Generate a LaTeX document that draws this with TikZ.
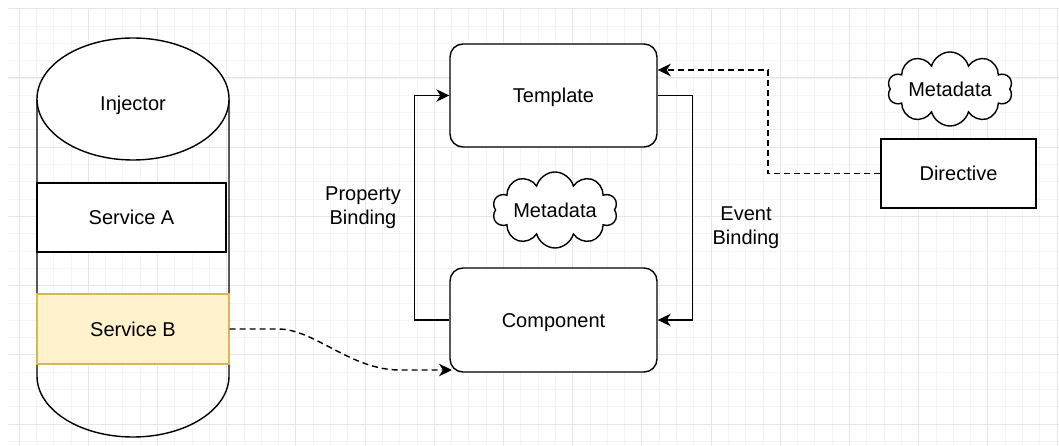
\documentclass[tikz,border=0pt]{standalone}
\usepackage{fontspec}
\setmainfont{Liberation Sans}
\usetikzlibrary{shapes.symbols,arrows.meta,calc}
\definecolor{gridminor}{HTML}{F4F4F4}
\definecolor{gridmajor}{HTML}{E6E6E6}
\definecolor{sbfill}{HTML}{FFF2CC}
\definecolor{sbdraw}{HTML}{D6B656}
\tikzset{
  txt/.style={font=\fontsize{20}{24}\selectfont, text=black},
  btxt/.style={txt, text height=14.5pt, text depth=0pt},
  outline/.style={draw=black, line width=1.4pt},
  rbox/.style={outline, rounded corners=13pt, minimum width=207pt, minimum height=103pt, btxt},
  sbox/.style={draw=black, line width=1.4pt, minimum width=189pt, minimum height=69pt, btxt, inner sep=0pt},
  mcloud/.style={outline, cloud, cloud puffs=10, cloud ignores aspect, minimum width=125pt, minimum height=76pt, btxt, inner sep=0pt},
  conn/.style={draw=black, line width=1.4pt, -{Stealth[length=13pt,width=12.5pt,inset=4pt]}},
  dconn/.style={conn, dash pattern=on 6pt off 4pt},
}
\begin{document}
\begin{tikzpicture}[x=1pt,y=-1pt]
\useasboundingbox (0,0) rectangle (1059,446);
\fill[white] (0,0) rectangle (1059,446);
% grid
\begin{scope}
\clip (8,9) rectangle (1059,446);
\foreach \k in {-1,...,61} \draw[gridminor, line width=0.8pt] ({19+17.3*\k},0) -- ({19+17.3*\k},446);
\foreach \k in {0,...,26} \draw[gridminor, line width=0.8pt] (0,{8.8+17.3*\k}) -- (1059,{8.8+17.3*\k});
\foreach \k in {0,...,15} \draw[gridmajor, line width=1pt] ({19+69.2*\k},0) -- ({19+69.2*\k},446);
\foreach \k in {0,...,6} \draw[gridmajor, line width=1pt] (0,{8.8+69.2*\k}) -- (1059,{8.8+69.2*\k});
\end{scope}
% cylinder (injector)
\draw[outline] (37,99) -- (37,376) arc[start angle=180, end angle=0, x radius=96, y radius=61] -- (229,99);
\draw[outline, fill=white] (133,99) ellipse [x radius=96, y radius=61];
\node[btxt] (inj) at (133,103) {Injector};
\node[sbox, fill=white, minimum width=189pt] (sa) at (131.5,217.5) {Service A};
\node[sbox, fill=sbfill, draw=sbdraw, minimum width=192pt, minimum height=70pt] (sb) at (133,329) {Service B};
% template / component
\node[rbox, fill=white] (tmpl) at (553.5,95.5) {Template};
\node[rbox, fill=white, minimum height=104pt] (comp) at (553.5,320) {Component};
\node[mcloud, fill=white] (md1) at (555,210) {Metadata};
\node[mcloud, fill=white, minimum height=74pt] (md2) at (950,89) {Metadata};
\node[draw=black, line width=1.4pt, fill=white, minimum width=155pt, minimum height=69pt, btxt] (dir) at (958.5,173.5) {Directive};
% labels
\node[txt, align=center] (pb) at (363,208) {Property\\Binding};
\node[txt, align=center] (eb) at (746,228) {Event\\Binding};
% connectors
\draw[conn] (comp.west) -- ++(-35,0) |- (tmpl.west);
\draw[conn] (tmpl.east) -- ++(35,0) |- (comp.east);
\coordinate (dturn) at (768,70);
\draw[dconn] (dir.west) -| (dturn) -- (tmpl.east |- dturn);
\coordinate (sbend) at (452,370);
\draw[dconn] (sb.east) -- (278,329) .. controls (315,329) and (350,370) .. (400,370) -- (sbend);
\end{tikzpicture}
\end{document}
